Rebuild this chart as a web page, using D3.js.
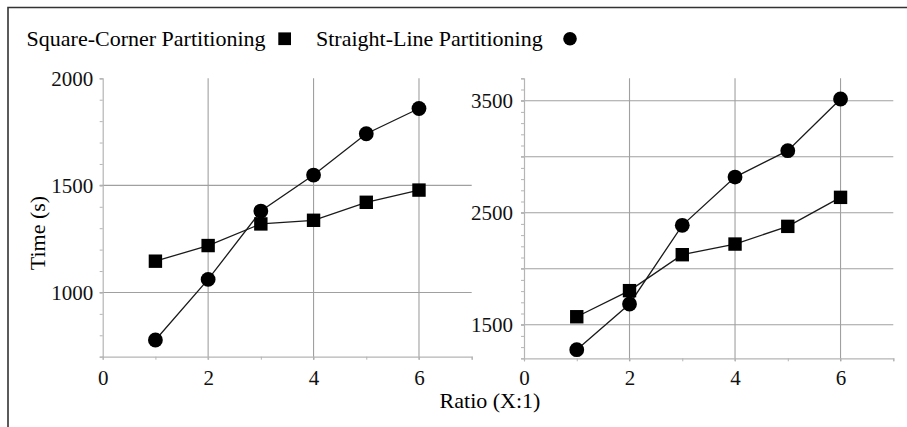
<!DOCTYPE html>
<html><head><meta charset="utf-8">
<script src="https://cdn.jsdelivr.net/npm/d3@7"></script>
<style>
html,body{margin:0;padding:0;background:#fff;}
svg{display:block;font-family:"Liberation Serif","Times New Roman",serif;}
svg text{font-family:"Liberation Serif","Times New Roman",serif !important;}
</style></head>
<body>
<svg id="c" width="907" height="427"></svg>
<script>
const ratios = [1, 2, 3, 4, 5, 6];
const leftSquare = [1146, 1219, 1320, 1337, 1421, 1478];
const leftCircle = [778, 1061, 1380, 1548, 1741, 1859];
const rightSquare = [1571, 1804, 2125, 2220, 2378, 2637];
const rightCircle = [1277, 1685, 2387, 2818, 3054, 3515];
const xTickLabels = [0, 2, 4, 6];
const xMinorTicks = [1, 3, 5, 7];
const leftYLabels = [1000, 1500, 2000];
const leftYGrid = [1000, 1500];
const rightYLabels = [1500, 2500, 3500];
const rightYGrid = [1500, 2000, 2500, 3000, 3500];
const seriesNames = ["Square-Corner Partitioning", "Straight-Line Partitioning"];

const SERIF = "Liberation Serif, Times New Roman, serif";
const svg = d3.select("#c");

// frame
svg.append("path").attr("d", "M8,427V7.5H907").attr("fill", "none")
  .attr("stroke", "#333").attr("stroke-width", 1.6);

// legend
svg.append("text").attr("x", 26.6).attr("y", 46).attr("font-size", 22).text(seriesNames[0]);
svg.append("rect").attr("x", 278.3).attr("y", 32.4).attr("width", 12.7).attr("height", 12.7).attr("fill", "#000");
svg.append("text").attr("x", 316).attr("y", 46).attr("font-size", 22).text(seriesNames[1]);
svg.append("circle").attr("cx", 570).attr("cy", 38.8).attr("r", 6.8).attr("fill", "#000");

function panel(opts) {
  const x = d3.scaleLinear([0, 7], opts.xr);
  const y = d3.scaleLinear(opts.yd, opts.yr);
  const g = svg.append("g");
  const [x0, x1] = opts.xr;
  const [yb, yt] = opts.yr;

  g.selectAll(".hg").data(opts.grid).join("line")
    .attr("x1", x0 - 3).attr("x2", x1)
    .attr("y1", d => y(d)).attr("y2", d => y(d))
    .attr("stroke", "#a0a0a0").attr("stroke-width", 1.1);
  g.selectAll(".vg").data([2, 4, 6]).join("line")
    .attr("x1", d => x(d)).attr("x2", d => x(d))
    .attr("y1", yt).attr("y2", yb + 3)
    .attr("stroke", "#a0a0a0").attr("stroke-width", 1.1);

  const minor = d3.range(opts.yd[0], opts.yd[1] + 1, 100);
  const ya = g.append("g").attr("transform", `translate(${x0},0)`)
    .call(d3.axisLeft(y).tickValues(minor).tickSize(3).tickFormat(""));
  ya.select(".domain").attr("stroke", "#b5b5b5").attr("stroke-width", 1.2);
  ya.selectAll(".tick line").attr("stroke", "#b5b5b5");
  const yl = g.append("g").attr("transform", `translate(${x0},0)`)
    .call(d3.axisLeft(y).tickValues(opts.ylabels).tickSize(3).tickPadding(opts.yPad).tickFormat(d3.format("d")));
  yl.attr("font-family", SERIF).attr("font-size", 21);
  yl.select(".domain").remove();
  yl.selectAll(".tick line").attr("stroke", "#b5b5b5");
  yl.selectAll("text").attr("fill", "#111");

  const xa = g.append("g").attr("transform", `translate(0,${yb})`)
    .call(d3.axisBottom(x).tickValues(xMinorTicks).tickSize(3).tickFormat(""));
  xa.select(".domain").attr("stroke", "#b5b5b5").attr("stroke-width", 1.2);
  xa.selectAll(".tick line").attr("stroke", "#b5b5b5");
  const xl = g.append("g").attr("transform", `translate(0,${yb})`)
    .call(d3.axisBottom(x).tickValues(xTickLabels).tickSize(3).tickPadding(opts.xPad).tickFormat(d3.format("d")));
  xl.attr("font-family", SERIF).attr("font-size", 21);
  xl.select(".domain").remove();
  xl.selectAll(".tick line").attr("stroke", "#b5b5b5");
  xl.selectAll("text").attr("fill", "#111");

  const line = d3.line().x((d, i) => x(ratios[i])).y(d => y(d));
  [opts.sq, opts.ci].forEach(s => {
    g.append("path").datum(s).attr("d", line).attr("fill", "none")
      .attr("stroke", "#1a1a1a").attr("stroke-width", 1.3);
  });
  g.selectAll(".sq").data(opts.sq).join("rect")
    .attr("x", (d, i) => x(ratios[i]) - 6.7).attr("y", d => y(d) - 6.7)
    .attr("width", 13.4).attr("height", 13.4).attr("fill", "#000");
  g.selectAll(".ci").data(opts.ci).join("circle")
    .attr("cx", (d, i) => x(ratios[i])).attr("cy", d => y(d))
    .attr("r", 7.4).attr("fill", "#000");
}

panel({xr: [102.7, 471.7], yd: [700, 2000], yr: [356.7, 78.3], grid: leftYGrid,
  ylabels: leftYLabels, sq: leftSquare, ci: leftCircle, yPad: 6.5, xPad: 10});
panel({xr: [524, 893.3], yd: [1200, 3700], yr: [358.3, 78.3], grid: rightYGrid,
  ylabels: rightYLabels, sq: rightSquare, ci: rightCircle, yPad: 8, xPad: 8.5});

svg.append("text").attr("x", 490).attr("y", 408).attr("text-anchor", "middle")
  .attr("font-size", 22).text("Ratio (X:1)");
svg.append("text").attr("transform", "translate(37,233) rotate(-90)")
  .attr("text-anchor", "middle").attr("dy", "0.35em").attr("font-size", 22).text("Time (s)");
</script>
</body></html>
